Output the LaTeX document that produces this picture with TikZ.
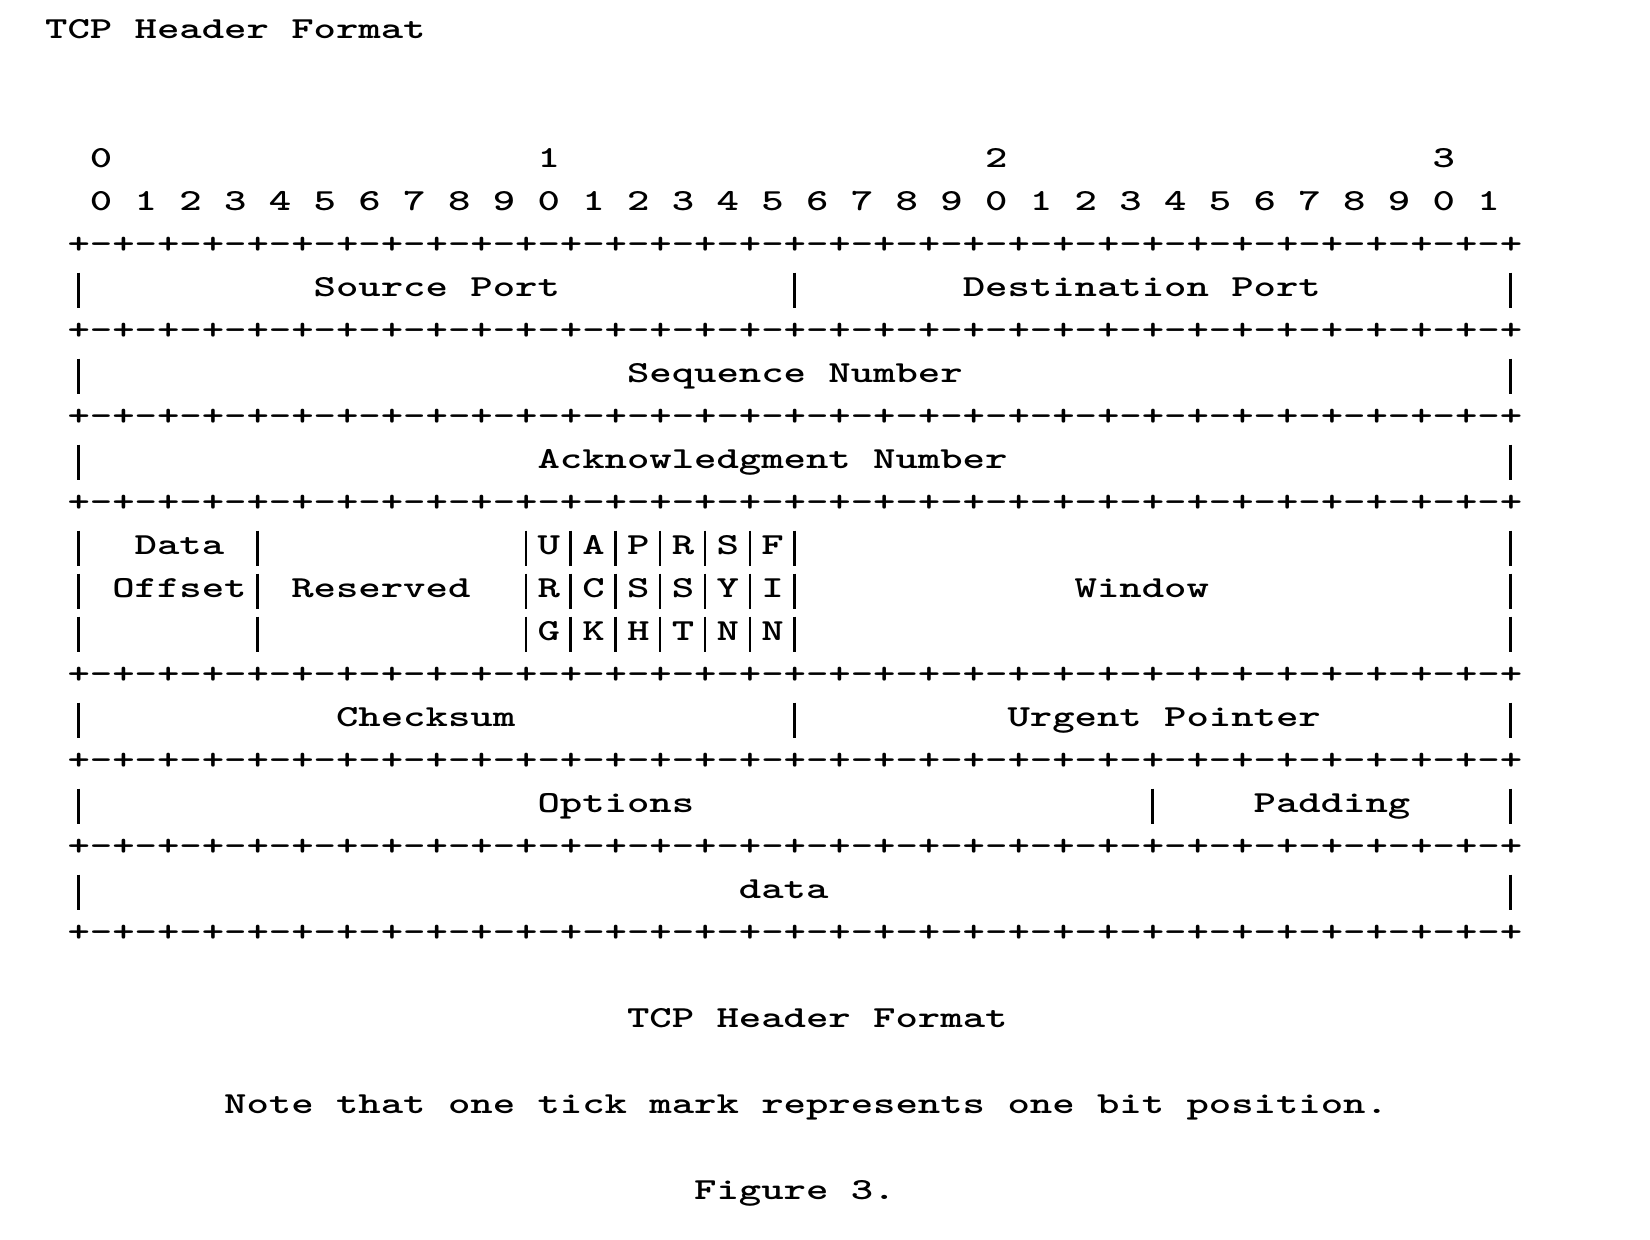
\documentclass[tikz,border=0pt]{standalone}
\usepackage{graphicx}

\def\cellW{11.19pt}
\def\rowH{21.5pt}
\def\ruler{+-+-+-+-+-+-+-+-+-+-+-+-+-+-+-+-+-+-+-+-+-+-+-+-+-+-+-+-+-+-+-+-+}
\def\asciiFont{\ttfamily\bfseries\fontsize{15.3}{15.3}\selectfont}
\colorlet{ascii ink}{black}
\tikzset{
  ascii/.style={anchor=base west, inner sep=0pt, text=ascii ink, font=\asciiFont},
  pipe/.style={draw=ascii ink, line width=1.2pt}
  }
\newlength\glyphW
\AtBeginDocument{%
  \settowidth{\glyphW}{\asciiFont M}%
  \pgfmathsetmacro{\xstretch}{11.19pt/\glyphW}}
\newcommand{\wide}[1]{\scalebox{\xstretch}[1]{#1}}

\begin{document}
\begin{tikzpicture}[x=\cellW, y=-\rowH]
  \useasboundingbox (0pt,83.75pt) rectangle (825pt,-536.25pt);

  \node[ascii] (title) at (2,-3) {\wide{TCP Header Format}};

  % bit numbers
  \foreach \col/\name in {4/0, 24/1, 44/2, 64/3} {
    \node[ascii] (tens\name) at (\col,0) {\wide{\name}};
  }
  \foreach \i in {0,...,31} {
    \pgfmathtruncatemacro{\digit}{mod(\i,10)}
    \node[ascii] (bit\i) at ({4+2*\i},1) {\wide{\digit}};
  }

  % +-+- rows
  \foreach \r in {2,4,6,8,12,14,16,18} {
    \node[ascii] (rule\r) at (3,\r) {\wide{\ruler}};
  }

  % field names
  \foreach \pos/\name/\label in {(14,3)/src/Source Port, (43,3)/dst/Destination Port,
      (28,5)/seq/Sequence Number, (24,7)/ack/Acknowledgment Number,
      (6,9)/offset/Data, (5,10)/offsetb/Offset, (13,10)/rsv/Reserved,
      (48,10)/win/Window, (15,13)/csum/Checksum, (45,13)/urg/Urgent Pointer,
      (24,15)/opt/Options, (56,15)/pad/Padding, (33,17)/payload/data} {
    \node[ascii] (\name) at \pos {\wide{\label}};
  }
  \foreach \col/\a/\b/\c in {24/U/R/G, 26/A/C/K, 28/P/S/H, 30/R/S/T, 32/S/Y/N, 34/F/I/N} {
    \node[ascii] (flag\col a) at (\col,9) {\wide{\a}};
    \node[ascii] (flag\col b) at (\col,10) {\wide{\b}};
    \node[ascii] (flag\col c) at (\col,11) {\wide{\c}};
  }

  % | separators
  \foreach \r/\cols in {3/{3,35,67}, 5/{3,67}, 7/{3,67},
      9/{3,11,23,25,27,29,31,33,35,67}, 10/{3,11,23,25,27,29,31,33,35,67},
      11/{3,11,23,25,27,29,31,33,35,67}, 13/{3,35,67}, 15/{3,51,67}, 17/{3,67}} {
    \foreach \c in \cols {
      \draw[pipe] ({\c+0.5},{\r-0.556}) -- ({\c+0.5},{\r+0.258});
    }
  }

  \node[ascii] (caption) at (28,20) {\wide{TCP Header Format}};
  \node[ascii] (note) at (10,22) {\wide{Note that one tick mark represents one bit position.}};
  \node[ascii] (fig) at (31,24) {\wide{Figure 3.}};
\end{tikzpicture}
\end{document}
